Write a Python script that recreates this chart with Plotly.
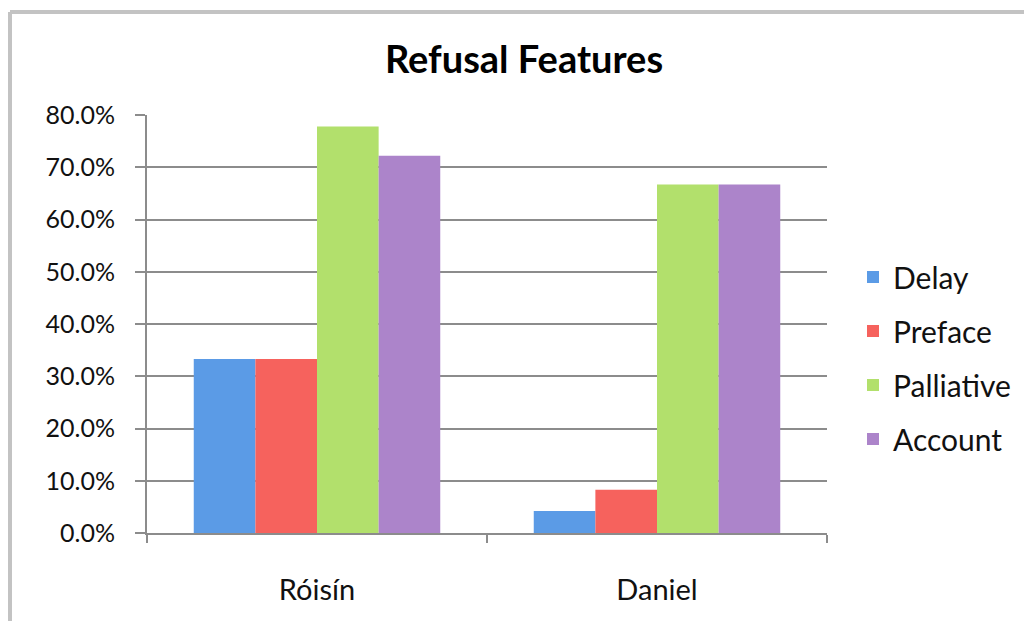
import plotly.graph_objects as go

# Share of refusals showing each feature, per speaker
speakers = ["Róisín", "Daniel"]
features = ["Delay", "Preface", "Palliative", "Account"]
delay = [0.333, 0.042]
preface = [0.333, 0.083]
palliative = [0.778, 0.667]
account = [0.722, 0.667]
y_ticks = [0.0, 0.1, 0.2, 0.3, 0.4, 0.5, 0.6, 0.7, 0.8]

series = [delay, preface, palliative, account]
colors = ["#5B9BE6", "#F6625D", "#B2E06C", "#AC84CA"]

W, H = 1024, 621
ML, MR, MT, MB = 147, 197, 115, 88
FONT = "Lato"

fig = go.Figure()
for i, (name, vals) in enumerate(zip(features, series)):
    fig.add_trace(go.Bar(
        x=speakers, y=vals, name=name,
        marker=dict(color=colors[i], line=dict(width=0)),
        legendgroup=name,
    ))

pw = W - ML - MR
ph = H - MT - MB


def px_x(p):
    return (p - ML) / pw


def px_y(p):
    return (H - MB - p) / ph


# Light grey frame around the chart
frame = dict(type="line", xref="paper", yref="paper",
             line=dict(color="#C3C3C3", width=4), layer="above")
fig.add_shape(**frame, x0=px_x(10), x1=px_x(W + 10), y0=px_y(12), y1=px_y(12))
fig.add_shape(**frame, x0=px_x(10), x1=px_x(10), y0=px_y(12), y1=px_y(H + 10))

fig.update_layout(
    width=W, height=H,
    margin=dict(l=ML, r=MR, t=MT, b=MB, autoexpand=False),
    paper_bgcolor="white", plot_bgcolor="white",
    barmode="group", bargap=0.275, bargroupgap=0,
    font=dict(family=FONT, color="#111111", size=24),
    title=dict(text="<b>Refusal Features</b>", x=(524 / W), xanchor="center",
               y=1 - 60 / H, yanchor="middle",
               font=dict(family=FONT, size=38, color="#000000")),
    showlegend=True,
    legend=dict(x=px_x(853), xanchor="left",
                y=px_y(358), yanchor="middle",
                font=dict(family=FONT, size=30, color="#111111"),
                tracegroupgap=12, itemwidth=30,
                bgcolor="rgba(0,0,0,0)"),
    xaxis=dict(
        type="category", showgrid=False,
        showline=True, linecolor="#8C8C8C", linewidth=2,
        ticks="outside", tickson="boundaries", ticklen=8,
        tickcolor="#8C8C8C", tickwidth=2,
        tickfont=dict(family=FONT, size=29, color="#111111"),
        ticklabelstandoff=30,
    ),
    yaxis=dict(
        range=[0, 0.8], tickvals=y_ticks, tickformat=".1%",
        showgrid=True, gridcolor="#8C8C8C", gridwidth=2,
        showline=True, linecolor="#8C8C8C", linewidth=2,
        ticks="outside", ticklen=10, tickcolor="#8C8C8C", tickwidth=2,
        tickfont=dict(family=FONT, size=25, color="#111111"),
        ticklabelstandoff=15,
        zeroline=False,
    ),
)

fig.write_html("out.html")
